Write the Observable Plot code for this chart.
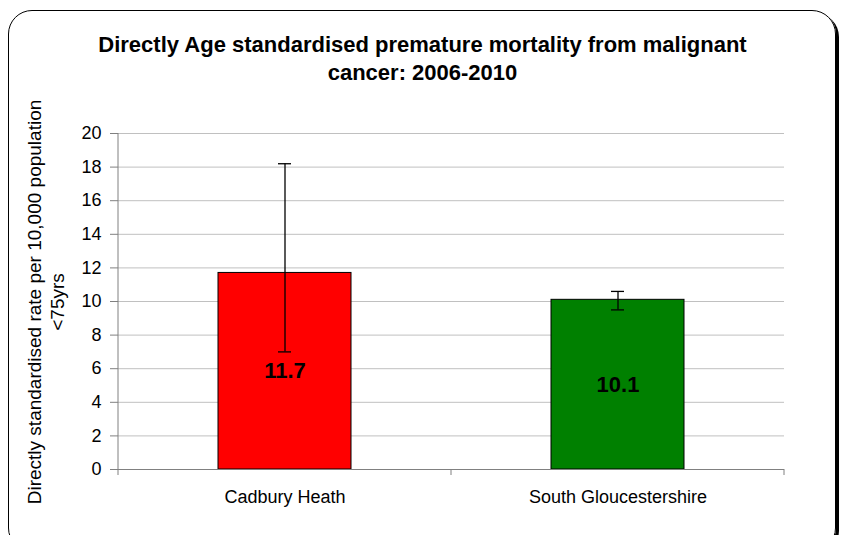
<!DOCTYPE html>
<html><head><meta charset="utf-8">
<script src="https://cdn.jsdelivr.net/npm/d3@7"></script>
<script src="https://cdn.jsdelivr.net/npm/@observablehq/plot@0.6"></script>
<style>
body{margin:0;background:#fff;font-family:"Liberation Sans",Arial,sans-serif;}
#frame{position:absolute;left:8px;top:10px;width:826px;height:540px;border:1.5px solid #000;border-radius:24px;box-shadow:3px 3px 0 #000;}
#title{position:absolute;left:0;top:31px;width:845px;text-align:center;font-weight:bold;font-size:22px;line-height:28px;color:#000;}
.ylab{position:absolute;font-size:19px;white-space:nowrap;transform:translate(-50%,-50%) rotate(-90deg);color:#000;}
#chart{position:absolute;left:0;top:110px;}
</style></head>
<body>
<div id="frame"></div>
<div id="title">Directly Age standardised premature mortality from malignant<br>cancer: 2006-2010</div>
<div class="ylab" style="left:35px;top:302px;">Directly standardised rate per 10,000 population</div>
<div class="ylab" style="left:58px;top:302px;">&lt;75yrs</div>
<div id="chart"></div>
<script>
const categories = ["Cadbury Heath", "South Gloucestershire"];
const values = [11.7, 10.1];
const lower = [7.0, 9.5];
const upper = [18.2, 10.6];
const colors = ["#ff0000", "#008000"];
const yTicks = [0, 2, 4, 6, 8, 10, 12, 14, 16, 18, 20];

const data = categories.map((c, i) => ({cat: c, value: values[i], lo: lower[i], hi: upper[i], color: colors[i]}));

const axisLines = (index, scales, values, dims) => {
  const g = d3.create("svg:g");
  const x = scales.x;
  const step = x.step ? x.step() : (dims.width - dims.marginLeft - dims.marginRight) / categories.length;
  const y0 = dims.height - dims.marginBottom;
  g.append("line").attr("x1", dims.marginLeft).attr("x2", dims.marginLeft)
    .attr("y1", dims.marginTop).attr("y2", y0).attr("stroke", "#808080");
  const xs = [dims.marginLeft];
  categories.forEach(c => xs.push(x(c) + x.bandwidth() / 2 + step / 2));
  xs.forEach(px => g.append("line").attr("x1", px).attr("x2", px).attr("y1", y0).attr("y2", y0 + 6).attr("stroke", "#808080"));
  return g.node();
};

const chart = Plot.plot({
  width: 845,
  height: 420,
  marginLeft: 118,
  marginRight: 61,
  marginTop: 23,
  marginBottom: 61,
  style: {fontFamily: "'Liberation Sans', Arial, sans-serif", fontSize: "17px", color: "#000", background: "transparent"},
  x: {domain: categories, paddingInner: 0.6, paddingOuter: 0.3, label: null, axis: null},
  y: {domain: [0, 20], ticks: yTicks, label: null, axis: null},
  marks: [
    Plot.ruleY(yTicks.filter(d => d > 0), {stroke: "#c0c0c0", strokeWidth: 1}),
    Plot.axisY({ticks: yTicks, tickSize: 8, tickPadding: 9, stroke: "#808080", fill: "#000", fontSize: 18, label: null, tickFormat: d => d}),
    Plot.barY(data, {x: "cat", y: "value", fill: "color", stroke: "#000", strokeWidth: 1}),
    Plot.ruleX(data, {x: "cat", y1: "lo", y2: "hi", stroke: "#000", strokeWidth: 1.3}),
    Plot.tickY(data, {x: "cat", y: "hi", stroke: "#000", strokeWidth: 1.3, inset: 60}),
    Plot.tickY(data, {x: "cat", y: "lo", stroke: "#000", strokeWidth: 1.3, inset: 60}),
    Plot.text(data, {x: "cat", y: d => d.value / 2, text: d => d.value.toFixed(1), fontWeight: "bold", fontSize: 22, fill: "#000"}),
    Plot.ruleY([0], {stroke: "#808080", strokeWidth: 1.2}),
    Plot.axisX({tickSize: 0, tickPadding: 21, fontSize: 18, fill: "#000", label: null}),
    axisLines
  ]
});
document.getElementById("chart").appendChild(chart);
</script>
</body></html>
